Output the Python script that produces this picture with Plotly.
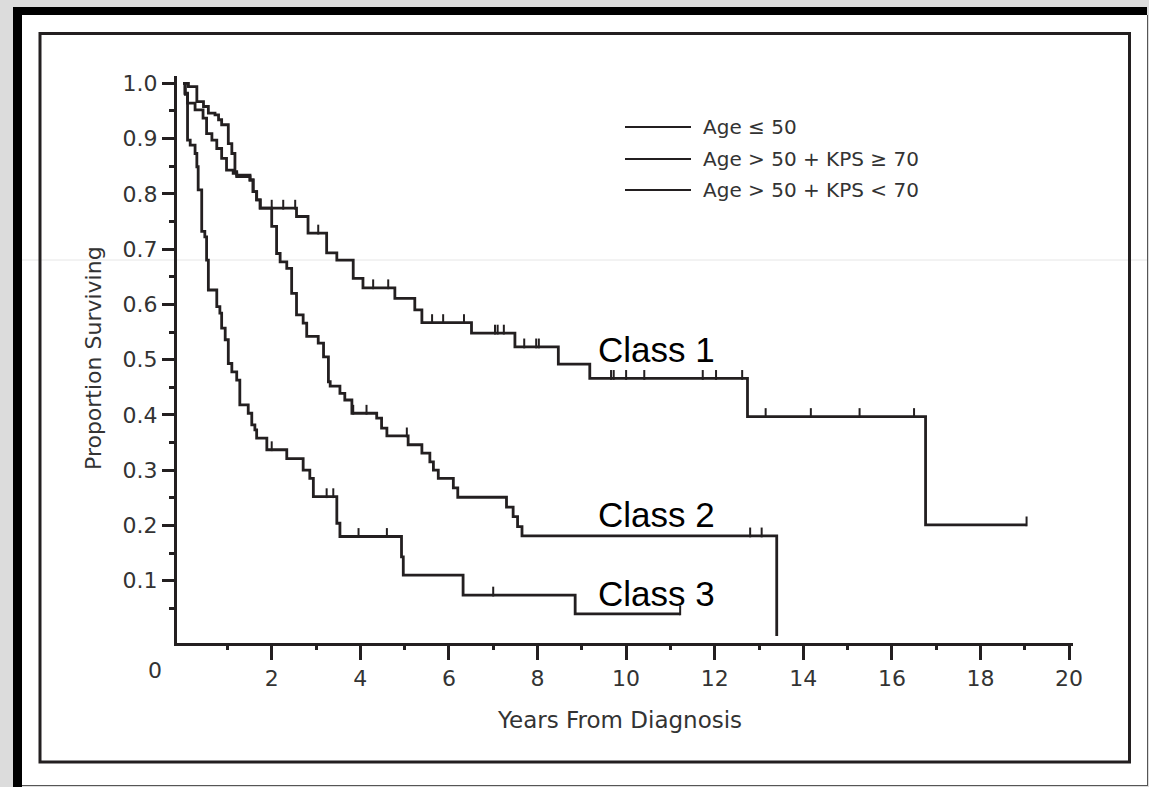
import plotly.graph_objects as go

# ---------------- data ----------------
class1_t = [0, 0.12, 0.31, 0.46, 0.57, 0.72, 0.80, 0.87, 1.02, 1.10, 1.17, 1.21, 1.51, 1.58, 1.66, 1.74,
            2.56, 2.82, 3.24, 3.47, 3.84, 4.06, 4.78, 5.23, 5.39, 6.51, 7.49, 8.47, 9.18, 12.74, 16.76, 19.04]
class1_s = [1.0, 0.994, 0.967, 0.958, 0.946, 0.943, 0.934, 0.925, 0.891, 0.873, 0.840, 0.834, 0.825, 0.804, 0.789, 0.774,
            0.759, 0.729, 0.693, 0.680, 0.647, 0.630, 0.611, 0.590, 0.567, 0.548, 0.523, 0.492, 0.466, 0.397, 0.201, 0.201]
class1_censor = [2.00, 2.26, 2.53, 3.05, 4.29, 4.63, 5.62, 5.87, 6.34, 7.04, 7.10, 7.24, 7.70, 7.97, 8.03,
                 9.66, 9.72, 10.00, 10.41, 11.73, 12.03, 12.62, 13.15, 14.17, 15.27, 16.50, 19.04]

class2_t = [0, 0.05, 0.10, 0.27, 0.45, 0.53, 0.65, 0.76, 0.87, 0.98, 1.13, 1.21, 1.51, 1.58, 1.66, 1.74,
            2.00, 2.11, 2.19, 2.34, 2.45, 2.56, 2.71, 2.79, 3.05, 3.17, 3.28, 3.32, 3.54, 3.65, 3.81, 4.37,
            4.48, 4.60, 5.08, 5.39, 5.57, 5.65, 5.76, 6.10, 6.20, 7.30, 7.45, 7.55, 7.65, 13.40]
class2_s = [1.0, 0.980, 0.964, 0.952, 0.937, 0.909, 0.897, 0.882, 0.864, 0.843, 0.837, 0.831, 0.825, 0.804, 0.789, 0.774,
            0.741, 0.692, 0.677, 0.665, 0.620, 0.581, 0.566, 0.542, 0.530, 0.505, 0.460, 0.452, 0.439, 0.427, 0.403, 0.394,
            0.376, 0.362, 0.346, 0.331, 0.315, 0.300, 0.285, 0.268, 0.251, 0.233, 0.216, 0.198, 0.181, 0.0]
class2_censor = [3.84, 4.14, 5.05, 12.80, 13.06]

class3_t = [0, 0.04, 0.10, 0.16, 0.27, 0.31, 0.34, 0.42, 0.49, 0.53, 0.57, 0.76, 0.83, 0.87, 0.95, 1.02,
            1.10, 1.21, 1.28, 1.47, 1.55, 1.62, 1.66, 1.89, 2.34, 2.71, 2.86, 2.94, 3.47, 3.54, 4.93, 4.97,
            6.32, 8.85, 11.22]
class3_s = [1.0, 0.982, 0.897, 0.888, 0.873, 0.849, 0.807, 0.732, 0.722, 0.680, 0.626, 0.596, 0.584, 0.557, 0.536, 0.493,
            0.478, 0.463, 0.418, 0.403, 0.382, 0.373, 0.358, 0.337, 0.321, 0.300, 0.285, 0.252, 0.204, 0.180, 0.143, 0.110,
            0.074, 0.040, 0.040]
class3_censor = [2.00, 3.24, 3.39, 3.96, 4.60, 7.00, 11.22]

legend_labels = ["Age \u2264 50", "Age > 50 + KPS \u2265 70", "Age > 50 + KPS < 70"]
class_labels = ["Class 1", "Class 2", "Class 3"]

x_tick_vals = [2, 4, 6, 8, 10, 12, 14, 16, 18, 20]
x_tick_text = ["2", "4", "6", "8", "10", "12", "14", "16", "18", "20"]
x_minor_vals = [1, 3, 5, 7, 9, 11, 13, 15, 17, 19]
y_tick_vals = [0.1, 0.2, 0.3, 0.4, 0.5, 0.6, 0.7, 0.8, 0.9, 1.0]
y_tick_text = ["0.1", "0.2", "0.3", "0.4", "0.5", "0.6", "0.7", "0.8", "0.9", "1.0"]
y_minor_vals = [0.05, 0.15, 0.25, 0.35, 0.45, 0.55, 0.65, 0.75, 0.85, 0.95]

# ---------------- layout geometry ----------------
W, H = 1149, 787
L, R, T, B = 177, 76, 76, 144
PW, PH = W - L - R, H - T - B
X_RANGE = [-0.138, 20.088]
Y_RANGE = [-0.0127, 1.0132]

INK = "#231f20"
TXT = "#333333"
SCAN_FONT = "DejaVu Sans"


def xp(pix):
    return (pix - L) / PW


def yp(pix):
    return (H - B - pix) / PH


def step_value(ts, ss, t):
    v = ss[0]
    for ti, si in zip(ts, ss):
        if ti <= t:
            v = si
    return v


tick_px = 7
y_per_px = (Y_RANGE[1] - Y_RANGE[0]) / PH
censor_off = tick_px / 2 * y_per_px

fig = go.Figure()
series = [(class1_t, class1_s, class1_censor, legend_labels[0]),
          (class2_t, class2_s, class2_censor, legend_labels[1]),
          (class3_t, class3_s, class3_censor, legend_labels[2])]
for ts, ss, cens, name in series:
    fig.add_trace(go.Scatter(x=ts, y=ss, mode="lines", line=dict(shape="hv", color=INK, width=2.8),
                             name=name, showlegend=False, hoverinfo="skip"))
    fig.add_trace(go.Scatter(x=cens, y=[step_value(ts, ss, c) + censor_off for c in cens], mode="markers",
                             marker=dict(symbol="line-ns", size=tick_px, line=dict(width=2, color=INK)),
                             showlegend=False, hoverinfo="skip"))

shapes = []
# outer white page, black top/left bands
shapes.append(dict(type="rect", xref="paper", yref="paper", x0=xp(22), x1=xp(1147), y0=yp(785), y1=yp(15),
                   fillcolor="white", line=dict(width=0), layer="below"))
shapes.append(dict(type="rect", xref="paper", yref="paper", x0=xp(13), x1=xp(1147), y0=yp(15), y1=yp(7),
                   fillcolor="black", line=dict(width=0), layer="below"))
shapes.append(dict(type="rect", xref="paper", yref="paper", x0=xp(13), x1=xp(22), y0=yp(787), y1=yp(7),
                   fillcolor="black", line=dict(width=0), layer="below"))
shapes.append(dict(type="line", xref="paper", yref="paper", x0=xp(1147.5), x1=xp(1147.5), y0=yp(786), y1=yp(15),
                   line=dict(color="#555555", width=1), layer="below"))
shapes.append(dict(type="line", xref="paper", yref="paper", x0=xp(22), x1=xp(1148), y0=yp(785.5), y1=yp(785.5),
                   line=dict(color="#555555", width=1), layer="below"))
# faint scan line
shapes.append(dict(type="line", xref="paper", yref="paper", x0=xp(22), x1=xp(1147), y0=yp(260), y1=yp(260),
                   line=dict(color="#e6e6e6", width=1), layer="below"))
# inner frame
shapes.append(dict(type="rect", xref="paper", yref="paper", x0=xp(40), x1=xp(1129.5), y0=yp(762), y1=yp(33.5),
                   line=dict(color=INK, width=3), fillcolor="rgba(0,0,0,0)", layer="below"))

annotations = []
# legend (drawn manually to match long sample lines)
legend_rows = [127, 159, 190]
for lab, row in zip(legend_labels, legend_rows):
    shapes.append(dict(type="line", xref="paper", yref="paper", x0=xp(625), x1=xp(691), y0=yp(row), y1=yp(row),
                       line=dict(color=INK, width=2)))
    annotations.append(dict(xref="paper", yref="paper", x=xp(701), y=yp(row), text=lab, showarrow=False,
                            xanchor="left", yanchor="middle", font=dict(family=SCAN_FONT, size=20, color=TXT)))

# class labels
class_rows = [349, 514, 593]
for lab, row in zip(class_labels, class_rows):
    annotations.append(dict(xref="paper", yref="paper", x=xp(596), y=yp(row), text=lab, showarrow=False,
                            xanchor="left", yanchor="middle",
                            font=dict(family="Liberation Sans, Arial", size=35, color="black")))

# stray "0" label and axis titles
annotations.append(dict(xref="paper", yref="paper", x=xp(155), y=yp(670), text="0", showarrow=False,
                        xanchor="center", yanchor="middle", font=dict(family=SCAN_FONT, size=22, color=TXT)))
annotations.append(dict(xref="paper", yref="paper", x=xp(619.5), y=yp(720), text="Years From Diagnosis",
                        showarrow=False, xanchor="center", yanchor="middle",
                        font=dict(family=SCAN_FONT, size=23, color=TXT)))
annotations.append(dict(xref="paper", yref="paper", x=xp(93), y=yp(358), text="Proportion Surviving",
                        showarrow=False, textangle=-90, xanchor="center", yanchor="middle",
                        font=dict(family=SCAN_FONT, size=22, color=TXT)))

fig.update_xaxes(range=X_RANGE, showline=True, linewidth=3, linecolor=INK, mirror=False,
                 ticks="outside", ticklen=14, tickwidth=3, tickcolor=INK,
                 tickmode="array", tickvals=x_tick_vals, ticktext=x_tick_text,
                 tickfont=dict(family=SCAN_FONT, size=22, color=TXT),
                 showgrid=False, zeroline=False,
                 minor=dict(tickmode="array", tickvals=x_minor_vals, ticks="outside", ticklen=4, tickwidth=3,
                            tickcolor=INK, showgrid=False))
fig.update_yaxes(range=Y_RANGE, showline=True, linewidth=3, linecolor=INK, mirror=False,
                 ticks="outside", ticklen=12, tickwidth=3, tickcolor=INK,
                 tickmode="array", tickvals=y_tick_vals, ticktext=y_tick_text,
                 tickfont=dict(family=SCAN_FONT, size=22, color=TXT),
                 showgrid=False, zeroline=False,
                 minor=dict(tickmode="array", tickvals=y_minor_vals, ticks="outside", ticklen=5, tickwidth=2.5,
                            tickcolor=INK, showgrid=False))

fig.update_layout(width=W, height=H, margin=dict(l=L, r=R, t=T, b=B, pad=0),
                  paper_bgcolor="#dcdcdc", plot_bgcolor="rgba(0,0,0,0)",
                  shapes=shapes, annotations=annotations, showlegend=False)

fig.write_html("out.html")
